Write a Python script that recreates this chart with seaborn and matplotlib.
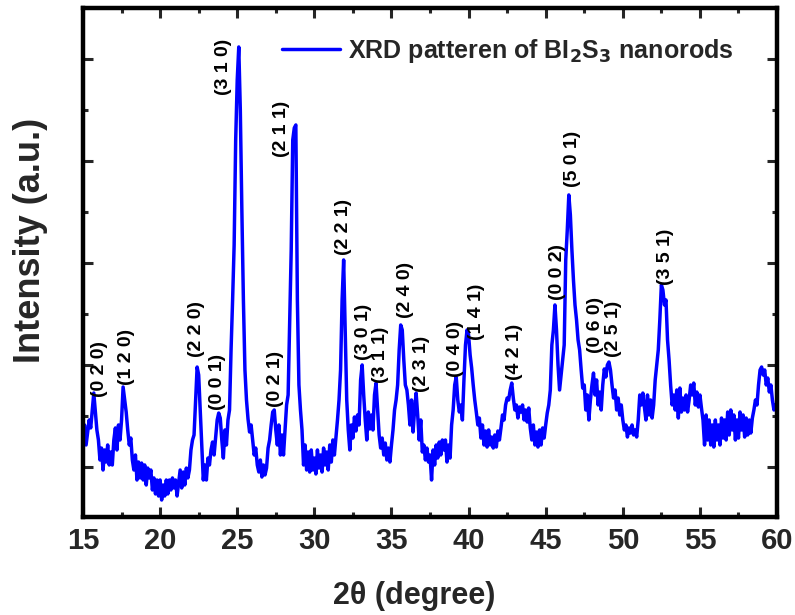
import numpy as np
import pandas as pd
import matplotlib
matplotlib.use("Agg")
import matplotlib.pyplot as plt
import seaborn as sns
from matplotlib.ticker import MultipleLocator


# scan grid (0.1 degree step) and intensity
two_theta = np.round(np.arange(15.0, 60.05, 0.1), 1)
intensity = [
    1265, 1412, 1216, 1343, 1461, 1383, 1559, 1725, 1539, 1363,  # 15
    1265, 1069, 1186, 971, 1167, 1049, 1216, 1020, 1147, 1020,  # 16
    1265, 1383, 1167, 1412, 1265, 1461, 1784, 1657, 1539, 1363,  # 17
    1216, 1284, 1069, 971, 1118, 873, 1049, 893, 1039, 873,  # 18
    1020, 824, 990, 893, 971, 775, 893, 736, 873, 716,  # 19
    873, 677, 824, 716, 873, 736, 873, 775, 893, 795,  # 20
    873, 716, 844, 971, 795, 951, 824, 990, 893, 971,  # 21
    1167, 1265, 1314, 1657, 1980, 1902, 1559, 1216, 873, 1020,  # 22
    873, 1088, 1020, 1167, 1245, 1118, 1284, 1461, 1529, 1480,  # 23
    1265, 1088, 1363, 1216, 1461, 1559, 2147, 2637, 3176, 4205,  # 24
    4793, 5116, 4499, 3519, 2637, 1951, 1657, 1471, 1343, 1412,  # 25
    1265, 1118, 1186, 1020, 951, 1069, 902, 1020, 922, 990,  # 26
    1186, 1265, 1412, 1539, 1559, 1363, 1216, 1412, 1118, 1314,  # 27
    1118, 1363, 1608, 1706, 2441, 3127, 4205, 4323, 4352, 2637,  # 28
    1804, 1559, 1363, 1020, 1216, 971, 1147, 951, 1167, 971,  # 29
    1088, 932, 1167, 990, 1118, 951, 1186, 1020, 1147, 971,  # 30
    1216, 1049, 1265, 1118, 1284, 1461, 1657, 1951, 2637, 3029,  # 31
    2343, 1657, 1363, 1167, 1412, 1284, 1490, 1353, 1510, 1412,  # 32
    1853, 2000, 1706, 1461, 1265, 1539, 1373, 1510, 1363, 1706,  # 33
    1823, 1559, 1314, 1186, 1284, 1118, 1235, 1069, 1186, 1049,  # 34
    1216, 1363, 1559, 1657, 1804, 2147, 2392, 2343, 2049, 1804,  # 35
    1755, 1608, 1412, 1657, 1343, 1559, 1725, 1510, 1265, 1461,  # 36
    1147, 1216, 1069, 1186, 1049, 1118, 873, 1167, 1020, 1216,  # 37
    1088, 1245, 1118, 1265, 1167, 1265, 1049, 1216, 1088, 1412,  # 38
    1559, 1804, 1882, 1657, 1539, 1608, 1461, 1853, 2196, 2343,  # 39
    2294, 2098, 1970, 1804, 1657, 1539, 1412, 1480, 1284, 1412,  # 40
    1216, 1353, 1196, 1363, 1216, 1294, 1186, 1314, 1196, 1353,  # 41
    1265, 1383, 1510, 1461, 1608, 1676, 1657, 1755, 1823, 1676,  # 42
    1559, 1608, 1480, 1588, 1539, 1608, 1461, 1559, 1441, 1578,  # 43
    1383, 1265, 1412, 1216, 1343, 1196, 1363, 1216, 1383, 1284,  # 44
    1412, 1529, 1608, 1755, 2196, 2343, 2588, 2343, 2000, 1755,  # 45
    1902, 2049, 2196, 3029, 3323, 3666, 3470, 3127, 2833, 2588,  # 46
    2441, 2245, 2147, 1951, 1774, 1804, 1559, 1706, 1461, 1657,  # 47
    1804, 1921, 1706, 1853, 1608, 1735, 1559, 1804, 1961, 1882,  # 48
    2000, 2029, 1951, 1804, 1676, 1755, 1559, 1676, 1510, 1608,  # 49
    1461, 1363, 1412, 1294, 1383, 1333, 1412, 1314, 1363, 1294,  # 50
    1461, 1706, 1608, 1725, 1588, 1461, 1706, 1510, 1657, 1480,  # 51
    1608, 1853, 2000, 2147, 2441, 2784, 2735, 2588, 2637, 2245,  # 52
    2049, 1804, 1608, 1706, 1559, 1755, 1480, 1774, 1539, 1676,  # 53
    1559, 1706, 1539, 1657, 1804, 1706, 1823, 1608, 1735, 1588,  # 54
    1706, 1578, 1461, 1216, 1510, 1265, 1461, 1216, 1412, 1196,  # 55
    1461, 1265, 1412, 1216, 1480, 1284, 1461, 1265, 1539, 1314,  # 56
    1559, 1363, 1510, 1265, 1461, 1284, 1539, 1363, 1510, 1294,  # 57
    1480, 1314, 1461, 1333, 1480, 1559, 1657, 1608, 1804, 1951,  # 58
    1980, 1902, 1951, 1804, 1872, 1735, 1804, 1657, 1559, 1608,  # 59
    1559,
]

# peak indexing labels: text, position, bottom of the label
hkl = ["(0 2 0)", "(1 2 0)", "(2 2 0)", "(0 0 1)", "(3 1 0)", "(2 1 1)",
       "(0 2 1)", "(2 2 1)", "(3 0 1)", "(3 1 1)", "(2 4 0)", "(2 3 1)",
       "(0 4 0)", "(1 4 1)", "(4 2 1)", "(0 0 2)", "(5 0 1)", "(0 6 0)",
       "(2 5 1)", "(3 5 1)"]
hkl_x = [16.1, 17.85, 22.33, 23.75, 24.08, 27.9, 27.5, 31.86, 33.16, 34.26,
         35.88, 36.92, 39.12, 40.49, 42.95, 45.74, 46.71, 48.2, 49.37, 52.74]
hkl_y = [1686, 1804, 2078, 1559, 4646, 4038, 1588, 3078, 2049, 1823,
         2460, 1735, 1882, 2245, 1853, 2637, 3744, 2117, 2078, 2784]

df = pd.DataFrame({"two_theta": two_theta, "intensity": intensity})

sns.set_style("ticks")
plt.rcParams["font.family"] = ["Liberation Sans", "DejaVu Sans"]
plt.rcParams["font.weight"] = "bold"

fig = plt.figure(figsize=(7.95, 6.15), dpi=100)
ax = fig.add_axes([0.1044, 0.1593, 0.8730, 0.8277])

sns.lineplot(data=df, x="two_theta", y="intensity", color="#0000ff",
             linewidth=2.5, label="XRD patteren of BI$_\\mathbf{2}$S$_\\mathbf{3}$ nanorods",
             ax=ax, sort=False)

for txt, x, y in zip(hkl, hkl_x, hkl_y):
    ax.text(x, y, txt, rotation=90, ha="center", va="bottom",
            fontsize=14, fontweight="bold", color="black")

ax.set_xlim(15, 60)
ax.set_ylim(510, 5498)
ax.xaxis.set_major_locator(MultipleLocator(5))
ax.xaxis.set_minor_locator(MultipleLocator(2.5))
ax.yaxis.set_major_locator(MultipleLocator(1000))
ax.yaxis.set_minor_locator(MultipleLocator(500))
ax.tick_params(which="both", direction="in", top=True, right=True, width=2.2)
ax.tick_params(which="major", length=7, labelsize=21, pad=7)
ax.tick_params(which="minor", length=3.5)
ax.set_yticklabels([])
for lab in ax.get_xticklabels():
    lab.set_fontweight("bold")
for sp in ax.spines.values():
    sp.set_linewidth(3.2)
    sp.set_color("black")

ax.set_xlabel("2θ (degree)", fontsize=22, fontweight="bold")
ax.set_ylabel("Intensity (a.u.)", fontsize=26, fontweight="bold")
ax.xaxis.set_label_coords(0.477, -0.125)
ax.yaxis.set_label_coords(-0.05, 0.544)

ax.legend(loc="center left", bbox_to_anchor=(0.287, 0.9155), frameon=False,
          borderpad=0, borderaxespad=0, handlelength=2.3, handletextpad=0.35,
          prop={"size": 18, "weight": "bold"})

fig.savefig("out.png", dpi=100)
